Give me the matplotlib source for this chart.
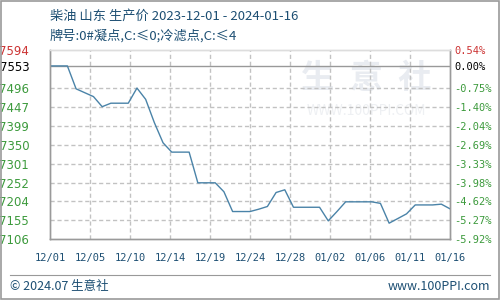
import matplotlib.pyplot as plt
import numpy as np

# data (one value per calendar day, 2023-12-01 .. 2024-01-16)
prices = [7553, 7553, 7553, 7494, 7484, 7474, 7448, 7457, 7457, 7457,
          7496, 7467, 7407, 7355, 7331, 7331, 7331, 7252, 7252, 7252,
          7229, 7178, 7178, 7178, 7184, 7191, 7227, 7234, 7189, 7189,
          7189, 7189, 7154, 7178, 7203, 7203, 7203, 7203, 7199, 7148,
          7160, 7172, 7195, 7195, 7195, 7197, 7185]
date_labels = ['12/01', '12/05', '12/10', '12/14', '12/19', '12/24',
               '12/28', '01/02', '01/06', '01/11', '01/16']
y_ticks = [7594, 7553, 7496, 7447, 7399, 7350, 7301, 7252, 7204, 7155, 7106]
pct_labels = ['0.54%', '0.00%', '-0.75%', '-1.40%', '-2.04%', '-2.69%',
              '-3.33%', '-3.98%', '-4.62%', '-5.27%', '-5.92%']
base = 7553

plt.rcParams['font.family'] = ['Noto Sans CJK SC', 'DejaVu Sans']

fig = plt.figure(figsize=(5, 3), dpi=100)
ax = fig.add_axes([0.1, 0.2017, 0.8, 0.6316])

x = np.arange(len(prices))
xt = np.linspace(0, len(prices) - 1, len(date_labels))

# grid, drawn first so it sits under the price line
for t in xt[1:-1]:
    ax.axvline(t, color='#c2c2c2', lw=1.0, dashes=(3, 2), snap=True, zorder=1)
for v in y_ticks[2:-1]:
    ax.axhline(v, color='#c2c2c2', lw=1.0, dashes=(3, 2), snap=True, zorder=1)
ax.axhline(base, color='#999999', lw=1.0, zorder=2)

ax.plot(x, prices, color='#4a83a8', lw=1.0, zorder=3)

ax.set_xlim(0, len(prices) - 1)
ax.set_ylim(7106, 7594)
ax.set_xticks(xt)
ax.set_xticklabels(date_labels, family='DejaVu Sans Mono', fontsize=7.5, color='#1d4f73')
ax.set_yticks(y_ticks)
ax.set_yticklabels([str(v) for v in y_ticks], fontsize=8.5, family='DejaVu Sans')
ax.tick_params(axis='x', length=0, pad=10)
ax.tick_params(axis='y', length=0, pad=15)
for lab, v in zip(ax.get_yticklabels(), y_ticks):
    lab.set_color('#cc3333' if v > base else ('black' if v == base else '#3c9a3c'))

ax2 = ax.twinx()
ax2.set_ylim(ax.get_ylim())
ax2.set_yticks(y_ticks)
ax2.set_yticklabels(pct_labels, family='DejaVu Sans Mono', fontsize=7.5)
ax2.tick_params(length=0, pad=3)
for lab, v in zip(ax2.get_yticklabels(), y_ticks):
    lab.set_color('#cc3333' if v > base else ('black' if v == base else '#3c9a3c'))

for a in (ax, ax2):
    for s in a.spines.values():
        s.set_color('#9a9a9a')
        s.set_linewidth(1.0)
    a.spines['top'].set_color('#dddddd')

# watermark
ax.text(0.79, 0.85, '生  意  社', transform=ax.transAxes, fontsize=24, color='#e9ecf1',
        ha='center', va='center', fontweight='bold', zorder=0)
ax.text(0.79, 0.68, 'WWW.100PPI.COM', transform=ax.transAxes, fontsize=10, color='#eef0f3',
        ha='center', va='center', zorder=0)

fig.text(0.1, 0.945, '柴油 山东 生产价 2023-12-01 - 2024-01-16', fontsize=9.5,
         color='#1d4f73', va='center')
fig.text(0.1, 0.88, '牌号:0#凝点,C:≤0;冷滤点,C:≤4', fontsize=9.5,
         color='#1d4f73', va='center')

fig.add_artist(plt.Line2D([0.02, 0.98], [0.083, 0.083], color='#999999', lw=0.8))
fig.text(0.02, 0.045, '© 2024.07 生意社', fontsize=9, color='#1d4f73', va='center')
fig.text(0.98, 0.045, 'www.100PPI.com', fontsize=9, color='#1d4f73', va='center', ha='right')
fig.add_artist(plt.Rectangle((0.002, 0.003), 0.996, 0.994, fill=False,
                             edgecolor='#9a9a9a', lw=1.2, transform=fig.transFigure))

fig.savefig('out.png', dpi=100)
